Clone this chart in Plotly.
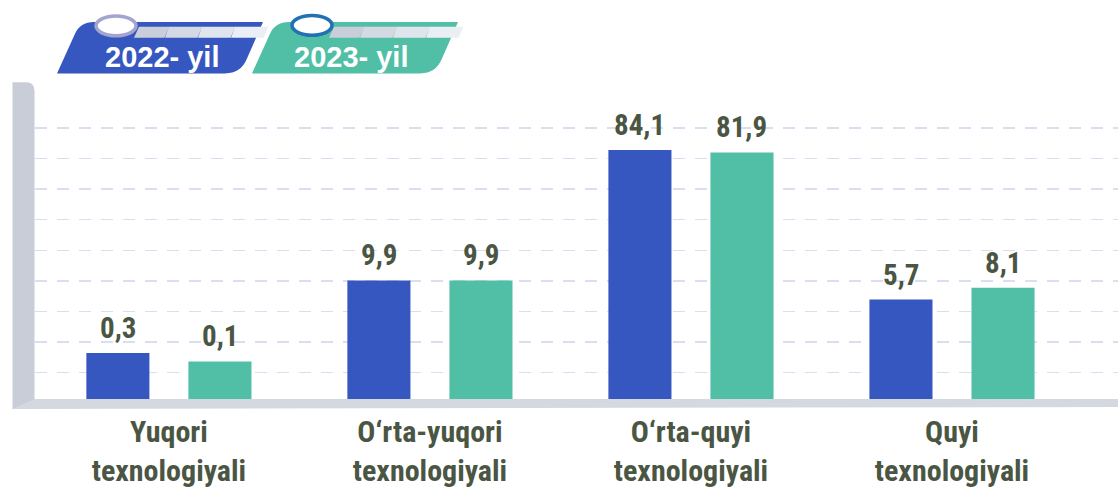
import plotly.graph_objects as go

# ---- data ----
categories = ["Yuqori texnologiyali", "O‘rta-yuqori texnologiyali",
              "O‘rta-quyi texnologiyali", "Quyi texnologiyali"]
tick_labels = ["Yuqori<br>texnologiyali", "O‘rta-yuqori<br>texnologiyali",
               "O‘rta-quyi<br>texnologiyali", "Quyi<br>texnologiyali"]
series_names = ["2022- yil", "2023- yil"]
values_2022 = [0.3, 9.9, 84.1, 5.7]
values_2023 = [0.1, 9.9, 81.9, 8.1]

# ---- style ----
BLUE = "#3757C0"
GREEN = "#50BFA5"
TEXT = "#4A5643"
NARROW = "Liberation Sans Narrow, Arial Narrow, Roboto Condensed, Liberation Sans, sans-serif"
W, H = 1118, 488
ML, MR, MT, MB = 35, 0, 110, 82
PW, PH = W - ML - MR, H - MT - MB
Y0 = H - MB  # pixel row of axis zero
XR = [-0.513, 3.636]
PX_PER_CAT = PW / (XR[1] - XR[0])
BARGAP = 0.218
BAR_OFFSET = (1 - BARGAP) * PX_PER_CAT / 4

# infographic uses a compressed (power) visual scale
POW = 0.4
OFF = 0.68
PX_PER_UNIT = 38.92


def scaled(v):
    return v ** POW + OFF


def fmt(v):
    return f"{v:.1f}".replace(".", ",")


def px(x, y):
    return f"{(x - ML) / PW:.5f},{(Y0 - y) / PH:.5f}"


fig = go.Figure()
annotations = []
for k, (name, vals, col) in enumerate([(series_names[0], values_2022, BLUE),
                                        (series_names[1], values_2023, GREEN)]):
    fig.add_trace(go.Bar(
        x=categories, y=[scaled(v) for v in vals], name=name,
        marker=dict(color=col, line=dict(width=0)),
        showlegend=False, hoverinfo="skip",
    ))
    for c, v in zip(categories, vals):
        annotations.append(dict(
            x=c, y=scaled(v), xref="x", yref="y",
            xshift=(-1 if k == 0 else 1) * BAR_OFFSET, yshift=6,
            text=fmt(v), showarrow=False, xanchor="center", yanchor="bottom",
            font=dict(family=NARROW, size=29, color=TEXT, weight="bold")))

shapes = []
# left wall
shapes.append(dict(type="path", xref="paper", yref="paper", layer="above",
                   path=f"M{px(12.5,412)} L{px(12.5,82)} L{px(26,82)} Q{px(34.5,82)} {px(34.5,91)} L{px(34.5,412)} Z",
                   fillcolor="#C8CDD8", line=dict(width=0)))
# bottom band
shapes.append(dict(type="path", xref="paper", yref="paper", layer="above",
                   path=f"M{px(34.5,402)} L{px(1118,402)} L{px(1118,410)} L{px(12.5,412)} L{px(34.5,402)} Z",
                   fillcolor="#D3D8E1", line=dict(width=0)))


def badge(dx, col, stripe_x0, stripe_x1):
    s = []
    s.append(dict(type="path", xref="paper", yref="paper", layer="above",
                  path=(f"M{px(57+dx,73)} L{px(75+dx,33)} Q{px(80+dx,21)} {px(94+dx,21)} "
                        f"L{px(263+dx,21)} L{px(247+dx,58)} Q{px(241+dx,73)} {px(225+dx,73)} Z"),
                  fillcolor=col, line=dict(width=0)))
    n = 4
    cols = ["#C9CEDA", "#D5D9E3", "#E0E4EC", "#EBEEF4"]
    seg = (stripe_x1 - stripe_x0) / n
    for i in range(n):
        a = stripe_x0 + i * seg
        b = a + seg
        left_top = a + (3 if i == 0 else 0)
        s.append(dict(type="path", xref="paper", yref="paper", layer="above",
                      path=(f"M{px(left_top,26)} L{px(b+0.5,26)} L{px(b-4.5,37)} L{px(a-4 if i else a-2,37)} Z"),
                      fillcolor=cols[i], line=dict(width=0)))
    return s


shapes += badge(0, BLUE, 136, 268)
shapes += badge(195, GREEN, 331, 463)
# pins
shapes.append(dict(type="circle", xref="paper", yref="paper", layer="above",
                   x0=(96 - ML) / PW, x1=(136 - ML) / PW,
                   y0=(Y0 - 35) / PH, y1=(Y0 - 15) / PH,
                   fillcolor="white", line=dict(color="#A3A5CF", width=3.5)))
shapes.append(dict(type="circle", xref="paper", yref="paper", layer="above",
                   x0=(292 - ML) / PW, x1=(332 - ML) / PW,
                   y0=(Y0 - 34.5) / PH, y1=(Y0 - 14.5) / PH,
                   fillcolor="white", line=dict(color="#2271B3", width=3.5)))

for name, cx in [(series_names[0], 162), (series_names[1], 351)]:
    annotations.append(dict(text=name, xref="paper", yref="paper",
                            x=(cx - ML) / PW, y=(Y0 - 56.5) / PH,
                            xanchor="center", yanchor="middle", showarrow=False,
                            font=dict(family="Liberation Sans, Arial, sans-serif",
                                      size=29, color="white", weight="bold")))

fig.update_layout(
    width=W, height=H,
    margin=dict(l=ML, r=MR, t=MT, b=MB, pad=0),
    paper_bgcolor="white", plot_bgcolor="white",
    barmode="group", bargap=BARGAP, bargroupgap=0.382,
    shapes=shapes, annotations=annotations,
    xaxis=dict(type="category", range=XR,
               tickvals=categories, ticktext=tick_labels,
               showgrid=False, showline=False, zeroline=False, ticks="",
               ticklabelstandoff=8,
               tickfont=dict(family=NARROW, size=30, color=TEXT, weight="bold")),
    yaxis=dict(range=[0, PH / PX_PER_UNIT], tick0=0, dtick=30.86 / PX_PER_UNIT,
               showgrid=True, gridcolor="#D9DEF0", gridwidth=1.5,
               griddash="12px,10px", zeroline=False, showline=False,
               showticklabels=False, ticks=""),
    showlegend=False,
    hovermode=False,
)

fig.write_html("out.html",
               config={"displayModeBar": False, "staticPlot": True},
               post_script="document.body.style.margin='0px';document.body.style.overflow='hidden';")
